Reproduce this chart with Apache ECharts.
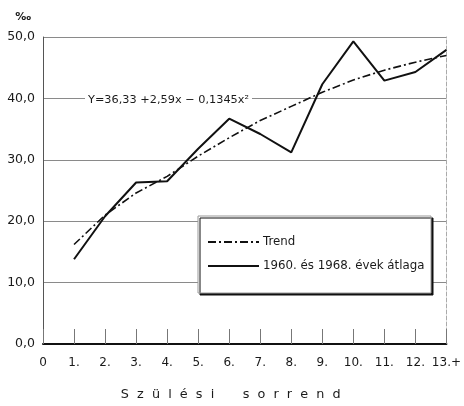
<!DOCTYPE html>
<html>
<head>
<meta charset="utf-8">
<script src="https://cdn.jsdelivr.net/npm/echarts@6/dist/echarts.min.js"></script>
<style>
  html, body { margin: 0; padding: 0; background: #fff; }
  #chart { width: 464px; height: 406px; }
</style>
</head>
<body>
<div id="chart"></div>
<script>
// Birth order positions and their axis labels
const orderValues = [1, 2, 3, 4, 5, 6, 7, 8, 9, 10, 11, 12, 13];
const orderLabels = ['0', '1.', '2.', '3.', '4.', '5.', '6.', '7.', '8.', '9.', '10.', '11.', '12.', '13.+'];

// Average of 1960 and 1968 (per mille)
const averageRates = [13.8, 20.8, 26.3, 26.5, 31.8, 36.7, 34.2, 31.2, 42.3, 49.3, 42.9, 44.3, 47.9];
// Fitted trend (per mille)
const trendRates = [16.2, 21.0, 24.6, 27.3, 30.6, 33.6, 36.4, 38.7, 41.0, 43.0, 44.6, 45.9, 47.0];

const yTicks = [0, 10, 20, 30, 40, 50];
const trendFormula = 'Y=36,33 +2,59x \u2212 0,1345x\u00B2';
const axisTitle = 'S  z  ü  l  é  s  i       s  o  r  r  e  n  d';

const FONT = 'DejaVu Sans';
const INK = '#1a1a1a';

const chart = echarts.init(document.getElementById('chart'), null, { renderer: 'canvas' });

chart.setOption({
  animation: false,
  backgroundColor: '#fff',
  textStyle: { fontFamily: FONT, color: INK },
  grid: { left: 43, right: 15, top: 37, bottom: 56 },
  legend: {
    orient: 'vertical',
    left: 207,
    top: 236,
    itemWidth: 51,
    itemHeight: 14,
    itemGap: 12,
    padding: 0,
    itemStyle: { opacity: 0 },
    textStyle: { fontFamily: FONT, fontSize: 11.8, color: INK, padding: [0, 0, 0, -1] },
    data: ['Trend', '1960. és 1968. évek átlaga'],
    z: 10
  },
  xAxis: {
    type: 'value',
    min: 0,
    max: 13,
    interval: 1,
    name: axisTitle,
    nameLocation: 'middle',
    nameGap: 44,
    nameTextStyle: { fontFamily: FONT, fontSize: 12.8, color: INK, padding: [0, 28, 0, 0] },
    axisLine: { show: true, onZero: false, lineStyle: { color: '#111', width: 2 } },
    axisTick: { show: true, inside: true, length: 15, lineStyle: { color: '#777', width: 1 } },
    axisLabel: {
      fontFamily: FONT, fontSize: 12, color: INK, margin: 13,
      formatter: v => orderLabels[Math.round(v)]
    },
    splitLine: { show: false }
  },
  yAxis: [{
    type: 'value',
    min: yTicks[0],
    max: yTicks[yTicks.length - 1],
    interval: 10,
    name: '\u2030',
    nameLocation: 'end',
    nameGap: 14,
    nameTextStyle: { fontFamily: FONT, fontSize: 11, fontWeight: 'bold', color: INK, align: 'right', padding: [0, 12, 0, 0] },
    axisLine: { show: true, lineStyle: { color: '#555', width: 1 } },
    axisTick: { show: false },
    axisLabel: {
      fontFamily: FONT, fontSize: 12.5, color: INK, margin: 8,
      formatter: v => v.toFixed(1).replace('.', ',')
    },
    splitLine: { show: true, lineStyle: { color: '#8a8a8a', width: 1 } }
  }, {
    type: 'value',
    position: 'right',
    min: yTicks[0],
    max: yTicks[yTicks.length - 1],
    interval: 10,
    axisLine: { show: true, lineStyle: { color: '#aaa', width: 1, type: [4, 2] } },
    axisTick: { show: false },
    axisLabel: { show: false },
    splitLine: { show: false }
  }],
  series: [{
    name: 'Trend',
    type: 'line',
    data: orderValues.map((x, i) => [x, trendRates[i]]),
    showSymbol: false,
    symbol: 'none',
    lineStyle: { color: '#111', width: 1.6, type: [8, 3, 2, 3] },
    itemStyle: { color: '#111' },
    z: 3
  }, {
    name: '1960. és 1968. évek átlaga',
    type: 'line',
    data: orderValues.map((x, i) => [x, averageRates[i]]),
    showSymbol: false,
    symbol: 'none',
    lineStyle: { color: '#111', width: 2 },
    itemStyle: { color: '#111' },
    z: 4
  }],
  graphic: [{
    // legend frame with a heavier lower-right edge
    type: 'rect',
    shape: { x: 198, y: 216, width: 233, height: 77 },
    style: { fill: '#fff', stroke: '#999', lineWidth: 1,
             shadowColor: '#111', shadowOffsetX: 2, shadowOffsetY: 2, shadowBlur: 0 },
    z: 6
  }, {
    // trend formula written over the 40,0 gridline
    type: 'text',
    left: 85,
    top: 93,
    style: {
      text: trendFormula,
      font: '11.3px "DejaVu Sans"',
      fill: INK,
      backgroundColor: '#fff',
      padding: [2, 3]
    },
    z: 6
  }]
});
</script>
</body>
</html>
